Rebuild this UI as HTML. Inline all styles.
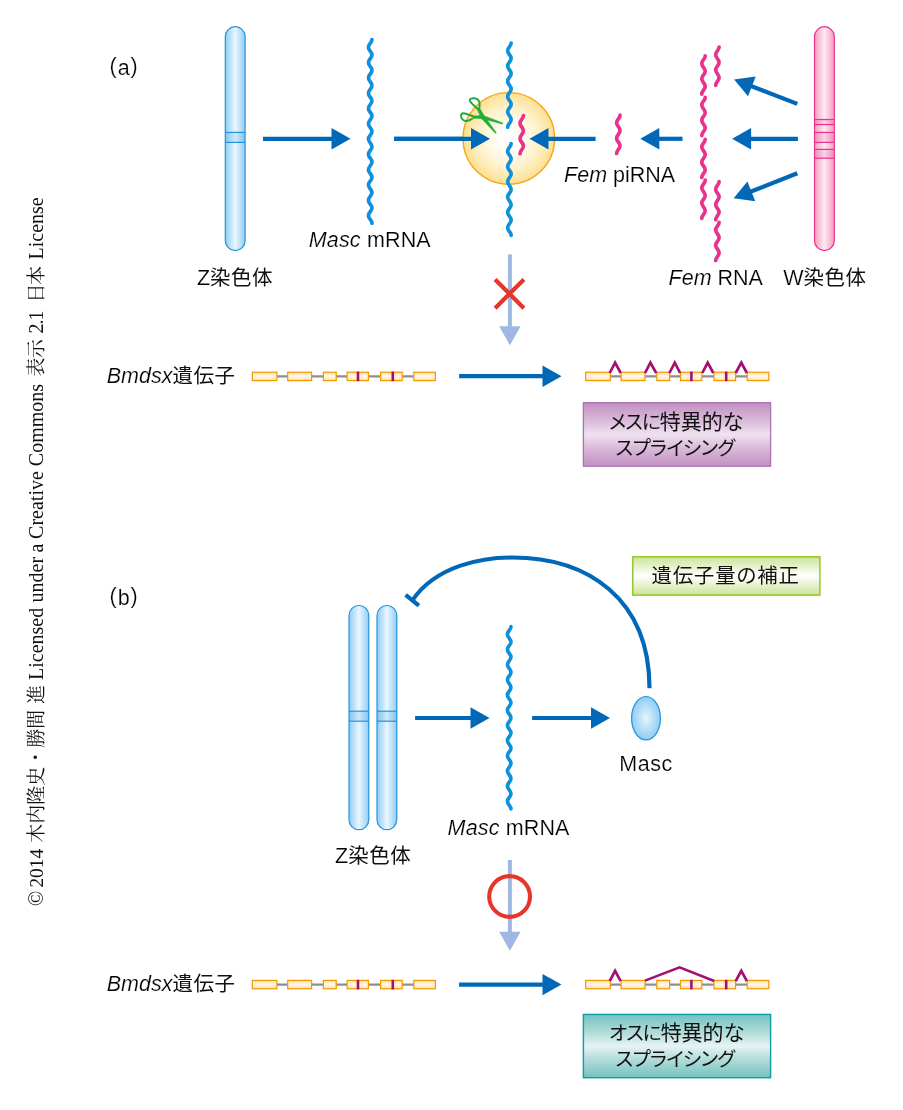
<!DOCTYPE html>
<html lang="ja">
<head>
<meta charset="utf-8">
<title>Masc / Fem piRNA</title>
<style>
html,body{margin:0;padding:0;background:#fff;}
body{width:903px;height:1110px;overflow:hidden;}
svg{display:block;will-change:transform;}
.t{font-family:"Liberation Sans","Noto Sans CJK JP",sans-serif;font-size:21.5px;fill:#000;stroke:#fff;stroke-width:0.18px;}
.i{font-style:italic;}
.j{font-size:20.5px;letter-spacing:0.5px;stroke:none;fill:#111;}
.bx{font-family:"Liberation Sans","Noto Sans CJK JP",sans-serif;font-size:21px;fill:#111;font-feature-settings:"palt";}
.k{letter-spacing:-1px;font-size:19.6px;}
.v{font-family:"Liberation Serif","Noto Serif CJK JP",serif;font-size:20px;fill:#111;}
.vj{font-size:19px;}
</style>
</head>
<body>
<svg width="903" height="1110" viewBox="0 0 903 1110">
<defs>
<linearGradient id="gZ" x1="0" y1="0" x2="1" y2="0">
<stop offset="0" stop-color="#8FCDF3"/><stop offset="0.5" stop-color="#EAF6FE"/><stop offset="1" stop-color="#8FCDF3"/>
</linearGradient>
<linearGradient id="gW" x1="0" y1="0" x2="1" y2="0">
<stop offset="0" stop-color="#F59AC3"/><stop offset="0.5" stop-color="#FDEAF2"/><stop offset="1" stop-color="#F59AC3"/>
</linearGradient>
<radialGradient id="gC" cx="0.5" cy="0.5" r="0.5">
<stop offset="0" stop-color="#FFFFFF"/><stop offset="0.25" stop-color="#FFFDF6"/><stop offset="0.65" stop-color="#FEF2CC"/><stop offset="1" stop-color="#FCE092"/>
</radialGradient>
<radialGradient id="gM" cx="0.5" cy="0.5" r="0.5">
<stop offset="0" stop-color="#E6F4FD"/><stop offset="1" stop-color="#8FCDF3"/>
</radialGradient>
<linearGradient id="gEx" x1="0" y1="0" x2="0" y2="1">
<stop offset="0" stop-color="#FDDCA0"/><stop offset="0.5" stop-color="#FFF9EC"/><stop offset="1" stop-color="#FDDCA0"/>
</linearGradient>
<linearGradient id="gP" x1="0" y1="0" x2="0" y2="1">
<stop offset="0" stop-color="#C190C2"/><stop offset="0.3" stop-color="#DBBCDB"/><stop offset="0.5" stop-color="#F0E2F0"/><stop offset="0.7" stop-color="#DBBCDB"/><stop offset="1" stop-color="#C190C2"/>
</linearGradient>
<linearGradient id="gG" x1="0" y1="0" x2="0" y2="1">
<stop offset="0" stop-color="#CBE496"/><stop offset="0.5" stop-color="#FFFFFF"/><stop offset="1" stop-color="#CBE496"/>
</linearGradient>
<linearGradient id="gT" x1="0" y1="0" x2="0" y2="1">
<stop offset="0" stop-color="#74C2BF"/><stop offset="0.3" stop-color="#B3DDDB"/><stop offset="0.5" stop-color="#E6F4F3"/><stop offset="0.7" stop-color="#B3DDDB"/><stop offset="1" stop-color="#74C2BF"/>
</linearGradient>
</defs>

<text class="v" transform="translate(42.8 906) rotate(-90)"><tspan x="0">©</tspan><tspan x="18.4" style="font-size:19.4px">2014</tspan> <tspan x="63.3" style="font-size:19px">木内隆史・勝間</tspan> <tspan x="201.9" style="font-size:19px">進</tspan> <tspan x="226">Licensed</tspan> <tspan x="303.5">under</tspan> <tspan x="353.6">a</tspan> <tspan x="367.1">Creative</tspan> <tspan x="439.8">Commons</tspan> <tspan x="529.6" style="font-size:19px;letter-spacing:-0.9px">表示</tspan> <tspan x="572.6" style="letter-spacing:-1.1px">2.1</tspan> <tspan x="603.6" style="font-size:19px;letter-spacing:-1.6px">日本</tspan> <tspan x="646.5">License</tspan></text>
<text class="t" x="109.6" y="75.2" style="letter-spacing:0.9px"><tspan dy="-2.2">(</tspan><tspan dy="2.2">a</tspan><tspan dy="-2.2">)</tspan></text>
<rect x="225.3" y="26.7" width="19.8" height="223.9" rx="9.9" ry="9.9" fill="url(#gZ)" stroke="#2294DF" stroke-width="1.2"/><rect x="225.3" y="132.4" width="19.8" height="10.00" fill="rgba(27,143,219,0.13)"/><line x1="225.3" y1="132.4" x2="245.10000000000002" y2="132.4" stroke="#2294DF" stroke-width="1.2"/><line x1="225.3" y1="142.4" x2="245.10000000000002" y2="142.4" stroke="#2294DF" stroke-width="1.2"/>
<text class="t" x="196.9" y="284.8">Z<tspan class="j">染色体</tspan></text>
<line x1="263.00" y1="138.80" x2="332.50" y2="138.80" stroke="#0068B7" stroke-width="4.2"/><polygon points="350.50,138.80 331.50,149.50 331.50,128.10" fill="#0068B7"/>
<path d="M371.95 39.60 C371.95 42.97 368.45 43.88 368.45 47.25 C368.45 50.62 371.95 51.53 371.95 54.90 C371.95 58.27 368.45 59.18 368.45 62.55 C368.45 65.92 371.95 66.83 371.95 70.20 C371.95 73.57 368.45 74.48 368.45 77.85 C368.45 81.22 371.95 82.13 371.95 85.50 C371.95 88.87 368.45 89.78 368.45 93.15 C368.45 96.52 371.95 97.43 371.95 100.80 C371.95 104.17 368.45 105.08 368.45 108.45 C368.45 111.82 371.95 112.73 371.95 116.10 C371.95 119.47 368.45 120.38 368.45 123.75 C368.45 127.12 371.95 128.03 371.95 131.40 C371.95 134.77 368.45 135.68 368.45 139.05 C368.45 142.42 371.95 143.33 371.95 146.70 C371.95 150.07 368.45 150.98 368.45 154.35 C368.45 157.72 371.95 158.63 371.95 162.00 C371.95 165.37 368.45 166.28 368.45 169.65 C368.45 173.02 371.95 173.93 371.95 177.30 C371.95 180.67 368.45 181.58 368.45 184.95 C368.45 188.32 371.95 189.23 371.95 192.60 C371.95 195.97 368.45 196.88 368.45 200.25 C368.45 203.62 371.95 204.53 371.95 207.90 C371.95 211.27 368.45 212.18 368.45 215.55 C368.45 218.92 371.95 219.83 371.95 223.20" fill="none" stroke="#0E90DD" stroke-width="3.7" stroke-linecap="round"/>
<text class="t" x="308.8" y="246.8" style="letter-spacing:0.15px"><tspan class="i">Masc</tspan> mRNA</text>
<line x1="394.20" y1="138.80" x2="472.00" y2="138.80" stroke="#0068B7" stroke-width="4.2"/><polygon points="490.00,138.80 471.00,149.50 471.00,128.10" fill="#0068B7"/>
<circle cx="508.8" cy="138.4" r="45.8" fill="url(#gC)" stroke="#F5A614" stroke-width="1.4"/>
<line x1="394.20" y1="138.80" x2="472.00" y2="138.80" stroke="#0068B7" stroke-width="4.2"/><polygon points="490.00,138.80 471.00,149.50 471.00,128.10" fill="#0068B7"/>
<line x1="595.60" y1="138.80" x2="547.50" y2="138.80" stroke="#0068B7" stroke-width="4.2"/><polygon points="529.50,138.80 548.50,128.10 548.50,149.50" fill="#0068B7"/>
<path d="M511.15 43.00 C511.15 46.37 507.65 47.28 507.65 50.65 C507.65 54.02 511.15 54.93 511.15 58.30 C511.15 61.67 507.65 62.58 507.65 65.95 C507.65 69.32 511.15 70.23 511.15 73.60 C511.15 76.97 507.65 77.88 507.65 81.25 C507.65 84.62 511.15 85.53 511.15 88.90 C511.15 92.27 507.65 93.18 507.65 96.55 C507.65 99.92 511.15 100.83 511.15 104.20 C511.15 107.57 507.65 108.48 507.65 111.85 C507.65 115.22 511.15 116.13 511.15 119.50 C511.15 122.87 507.65 123.78 507.65 127.15" fill="none" stroke="#0E90DD" stroke-width="3.7" stroke-linecap="round"/>
<path d="M511.15 143.50 C511.15 146.87 507.65 147.78 507.65 151.15 C507.65 154.52 511.15 155.43 511.15 158.80 C511.15 162.17 507.65 163.08 507.65 166.45 C507.65 169.82 511.15 170.73 511.15 174.10 C511.15 177.47 507.65 178.38 507.65 181.75 C507.65 185.12 511.15 186.03 511.15 189.40 C511.15 192.77 507.65 193.68 507.65 197.05 C507.65 200.42 511.15 201.33 511.15 204.70 C511.15 208.07 507.65 208.98 507.65 212.35 C507.65 215.72 511.15 216.63 511.15 220.00 C511.15 223.37 507.65 224.28 507.65 227.65 C507.65 231.02 511.15 231.93 511.15 235.30" fill="none" stroke="#0E90DD" stroke-width="3.7" stroke-linecap="round"/>
<path d="M523.40 115.50 C523.40 118.87 520.00 119.78 520.00 123.15 C520.00 126.52 523.40 127.43 523.40 130.80 C523.40 134.17 520.00 135.08 520.00 138.45 C520.00 141.82 523.40 142.73 523.40 146.10 C523.40 149.47 520.00 150.38 520.00 153.75" fill="none" stroke="#E8328C" stroke-width="3.7" stroke-linecap="round"/>
<g stroke="#22AC38" stroke-linejoin="round" stroke-linecap="round"><path d="M478.8 110 C476 107 471 103.5 470 100.8 C469.3 98.5 472 98 474.5 98.3 C477.5 98.7 479.3 100.5 479.6 103.5 C479.8 106 479.5 108 478.8 110 Z" fill="none" stroke-width="2.0"/><path d="M474.5 117 C471 115.5 466 113.3 463.5 113.2 C461.5 113.2 460.8 114.8 461.1 116.5 C461.6 119 464 121.2 466.5 121.1 C469.5 121 472 119 474.5 117 Z" fill="none" stroke-width="2.0"/><path d="M477.8 109.6 L480 108.8 L484.3 116 L496.3 132.8 L495.5 133.3 L481 118 Z" fill="#22AC38" stroke-width="0.6"/><path d="M474.2 116 L483 115.5 L502.8 123 L502.5 124 L482 118.6 L474.6 118.2 Z" fill="#22AC38" stroke-width="0.6"/></g>
<path d="M620.00 115.20 C620.00 118.57 616.60 119.48 616.60 122.85 C616.60 126.22 620.00 127.13 620.00 130.50 C620.00 133.87 616.60 134.78 616.60 138.15 C616.60 141.52 620.00 142.43 620.00 145.80 C620.00 149.17 616.60 150.08 616.60 153.45" fill="none" stroke="#E8328C" stroke-width="3.7" stroke-linecap="round"/>
<text class="t" x="564.1" y="182.0"><tspan class="i">Fem</tspan> piRNA</text>
<line x1="682.50" y1="138.80" x2="658.30" y2="138.80" stroke="#0068B7" stroke-width="4.2"/><polygon points="640.30,138.80 659.30,128.10 659.30,149.50" fill="#0068B7"/>
<path d="M705.20 55.90 C705.20 59.25 701.80 60.17 701.80 63.52 C701.80 66.88 705.20 67.80 705.20 71.15 C705.20 74.51 701.80 75.42 701.80 78.78 C701.80 82.13 705.20 83.05 705.20 86.40 C705.20 89.76 701.80 90.67 701.80 94.03" fill="none" stroke="#E8328C" stroke-width="3.7" stroke-linecap="round"/>
<path d="M705.20 97.40 C705.20 100.76 701.80 101.67 701.80 105.03 C701.80 108.38 705.20 109.30 705.20 112.65 C705.20 116.01 701.80 116.92 701.80 120.28 C701.80 123.63 705.20 124.55 705.20 127.90 C705.20 131.25 701.80 132.17 701.80 135.53" fill="none" stroke="#E8328C" stroke-width="3.7" stroke-linecap="round"/>
<path d="M705.20 139.30 C705.20 142.66 701.80 143.57 701.80 146.93 C701.80 150.28 705.20 151.20 705.20 154.55 C705.20 157.91 701.80 158.82 701.80 162.18 C701.80 165.53 705.20 166.45 705.20 169.80 C705.20 173.16 701.80 174.07 701.80 177.43" fill="none" stroke="#E8328C" stroke-width="3.7" stroke-linecap="round"/>
<path d="M705.20 180.20 C705.20 183.55 701.80 184.47 701.80 187.82 C701.80 191.18 705.20 192.09 705.20 195.45 C705.20 198.80 701.80 199.72 701.80 203.07 C701.80 206.43 705.20 207.34 705.20 210.70 C705.20 214.05 701.80 214.97 701.80 218.32" fill="none" stroke="#E8328C" stroke-width="3.7" stroke-linecap="round"/>
<path d="M719.10 47.10 C719.10 50.45 715.70 51.37 715.70 54.73 C715.70 58.08 719.10 59.00 719.10 62.35 C719.10 65.70 715.70 66.62 715.70 69.97 C715.70 73.33 719.10 74.24 719.10 77.60 C719.10 80.95 715.70 81.87 715.70 85.22" fill="none" stroke="#E8328C" stroke-width="3.7" stroke-linecap="round"/>
<path d="M719.10 181.60 C719.10 184.95 715.70 185.87 715.70 189.22 C715.70 192.58 719.10 193.50 719.10 196.85 C719.10 200.20 715.70 201.12 715.70 204.47 C715.70 207.83 719.10 208.75 719.10 212.10 C719.10 215.45 715.70 216.37 715.70 219.72" fill="none" stroke="#E8328C" stroke-width="3.7" stroke-linecap="round"/>
<path d="M719.10 222.30 C719.10 225.66 715.70 226.57 715.70 229.93 C715.70 233.28 719.10 234.20 719.10 237.55 C719.10 240.91 715.70 241.82 715.70 245.18 C715.70 248.53 719.10 249.45 719.10 252.80 C719.10 256.16 715.70 257.07 715.70 260.43" fill="none" stroke="#E8328C" stroke-width="3.7" stroke-linecap="round"/>
<text class="t" x="668.6" y="284.8"><tspan class="i">Fem</tspan> RNA</text>
<line x1="797.30" y1="103.90" x2="750.94" y2="86.02" stroke="#0068B7" stroke-width="4.2"/><polygon points="734.15,79.55 755.72,76.40 748.02,96.37" fill="#0068B7"/>
<line x1="797.90" y1="138.80" x2="750.10" y2="138.80" stroke="#0068B7" stroke-width="4.2"/><polygon points="732.10,138.80 751.10,128.10 751.10,149.50" fill="#0068B7"/>
<line x1="797.30" y1="173.30" x2="750.40" y2="191.76" stroke="#0068B7" stroke-width="4.2"/><polygon points="733.65,198.36 747.41,181.44 755.25,201.35" fill="#0068B7"/>
<rect x="814.5" y="26.7" width="19.8" height="223.9" rx="9.9" ry="9.9" fill="url(#gW)" stroke="#E8328C" stroke-width="1.2"/><rect x="814.5" y="119.5" width="19.8" height="5.10" fill="rgba(232,50,140,0.13)"/><rect x="814.5" y="132.4" width="19.8" height="10.00" fill="rgba(232,50,140,0.13)"/><rect x="814.5" y="149.4" width="19.8" height="8.80" fill="rgba(232,50,140,0.13)"/><line x1="814.5" y1="119.5" x2="834.3" y2="119.5" stroke="#E8328C" stroke-width="1.2"/><line x1="814.5" y1="124.6" x2="834.3" y2="124.6" stroke="#E8328C" stroke-width="1.2"/><line x1="814.5" y1="132.4" x2="834.3" y2="132.4" stroke="#E8328C" stroke-width="1.2"/><line x1="814.5" y1="142.4" x2="834.3" y2="142.4" stroke="#E8328C" stroke-width="1.2"/><line x1="814.5" y1="149.4" x2="834.3" y2="149.4" stroke="#E8328C" stroke-width="1.2"/><line x1="814.5" y1="158.2" x2="834.3" y2="158.2" stroke="#E8328C" stroke-width="1.2"/>
<text class="t" x="783.3" y="284.6">W<tspan class="j">染色体</tspan></text>
<line x1="509.90" y1="254.30" x2="509.90" y2="327.20" stroke="#9FB8E2" stroke-width="4"/><polygon points="509.90,345.20 499.20,326.20 520.60,326.20" fill="#9FB8E2"/>
<path d="M495.1 279.4 L523.9 308.2 M523.9 279.4 L495.1 308.2" stroke="#E6352B" stroke-width="4.2" fill="none"/>
<text class="t" x="106.7" y="383.2"><tspan class="i">Bmdsx</tspan><tspan class="j">遺伝子</tspan></text>
<line x1="253.7" y1="376.4" x2="433.7" y2="376.4" stroke="#8E8E8E" stroke-width="2.1"/><rect x="252.30" y="372.20" width="24.60" height="8.4" fill="url(#gEx)" stroke="#F39800" stroke-width="1.2"/><rect x="287.70" y="372.20" width="23.90" height="8.4" fill="url(#gEx)" stroke="#F39800" stroke-width="1.2"/><rect x="323.40" y="372.20" width="12.80" height="8.4" fill="url(#gEx)" stroke="#F39800" stroke-width="1.2"/><rect x="347.10" y="372.20" width="21.30" height="8.4" fill="url(#gEx)" stroke="#F39800" stroke-width="1.2"/><rect x="380.60" y="372.20" width="21.60" height="8.4" fill="url(#gEx)" stroke="#F39800" stroke-width="1.2"/><rect x="413.80" y="372.20" width="21.60" height="8.4" fill="url(#gEx)" stroke="#F39800" stroke-width="1.2"/><line x1="358.00" y1="371.60" x2="358.00" y2="381.20" stroke="#A4106F" stroke-width="2.6"/><line x1="392.80" y1="371.60" x2="392.80" y2="381.20" stroke="#A4106F" stroke-width="2.6"/>
<line x1="459.10" y1="376.20" x2="543.50" y2="376.20" stroke="#0068B7" stroke-width="4.2"/><polygon points="561.50,376.20 542.50,386.90 542.50,365.50" fill="#0068B7"/>
<line x1="587.1" y1="376.4" x2="767.1" y2="376.4" stroke="#8E8E8E" stroke-width="2.1"/><rect x="585.70" y="372.20" width="24.60" height="8.4" fill="url(#gEx)" stroke="#F39800" stroke-width="1.2"/><rect x="621.10" y="372.20" width="23.90" height="8.4" fill="url(#gEx)" stroke="#F39800" stroke-width="1.2"/><rect x="656.80" y="372.20" width="12.80" height="8.4" fill="url(#gEx)" stroke="#F39800" stroke-width="1.2"/><rect x="680.50" y="372.20" width="21.30" height="8.4" fill="url(#gEx)" stroke="#F39800" stroke-width="1.2"/><rect x="714.00" y="372.20" width="21.60" height="8.4" fill="url(#gEx)" stroke="#F39800" stroke-width="1.2"/><rect x="747.20" y="372.20" width="21.60" height="8.4" fill="url(#gEx)" stroke="#F39800" stroke-width="1.2"/><line x1="691.40" y1="371.60" x2="691.40" y2="381.20" stroke="#A4106F" stroke-width="2.6"/><line x1="726.20" y1="371.60" x2="726.20" y2="381.20" stroke="#A4106F" stroke-width="2.6"/>
<path d="M609.7 373 L615.1 362.6 L620.7 373" fill="none" stroke="#A4106F" stroke-width="2.7" stroke-linejoin="miter"/>
<path d="M645 373 L650.4 362.6 L656.2 373" fill="none" stroke="#A4106F" stroke-width="2.7" stroke-linejoin="miter"/>
<path d="M669.4 373 L674.8 362.6 L680.1 373" fill="none" stroke="#A4106F" stroke-width="2.7" stroke-linejoin="miter"/>
<path d="M702.3 373 L707.7 362.6 L713.3 373" fill="none" stroke="#A4106F" stroke-width="2.7" stroke-linejoin="miter"/>
<path d="M735.7 373 L741.3 362.6 L746.9 373" fill="none" stroke="#A4106F" stroke-width="2.7" stroke-linejoin="miter"/>
<rect x="583.4" y="402.7" width="187.2" height="63.5" fill="url(#gP)" stroke="#A973B2" stroke-width="1.3"/>
<text class="bx" x="609.1" y="429.3"><tspan class="k">メスに</tspan>特異的な</text>
<text class="bx k" x="615.6" y="454.6" style="letter-spacing:-0.6px">スプライシング</text>
<text class="t" x="109.6" y="605.2" style="letter-spacing:0.9px"><tspan dy="-2.2">(</tspan><tspan dy="2.2">b</tspan><tspan dy="-2.2">)</tspan></text>
<rect x="349.0" y="605.5" width="19.8" height="224.2" rx="9.9" ry="9.9" fill="url(#gZ)" stroke="#2294DF" stroke-width="1.2"/><rect x="349.0" y="711.2" width="19.8" height="10.00" fill="rgba(27,143,219,0.13)"/><line x1="349.0" y1="711.2" x2="368.8" y2="711.2" stroke="#2294DF" stroke-width="1.2"/><line x1="349.0" y1="721.2" x2="368.8" y2="721.2" stroke="#2294DF" stroke-width="1.2"/>
<rect x="377.0" y="605.5" width="19.8" height="224.2" rx="9.9" ry="9.9" fill="url(#gZ)" stroke="#2294DF" stroke-width="1.2"/><rect x="377.0" y="711.2" width="19.8" height="10.00" fill="rgba(27,143,219,0.13)"/><line x1="377.0" y1="711.2" x2="396.8" y2="711.2" stroke="#2294DF" stroke-width="1.2"/><line x1="377.0" y1="721.2" x2="396.8" y2="721.2" stroke="#2294DF" stroke-width="1.2"/>
<text class="t" x="335" y="862.7">Z<tspan class="j">染色体</tspan></text>
<line x1="415.10" y1="718.00" x2="471.50" y2="718.00" stroke="#0068B7" stroke-width="4.2"/><polygon points="489.50,718.00 470.50,728.70 470.50,707.30" fill="#0068B7"/>
<path d="M510.95 626.70 C510.95 630.04 507.45 630.95 507.45 634.29 C507.45 637.63 510.95 638.54 510.95 641.88 C510.95 645.22 507.45 646.13 507.45 649.47 C507.45 652.81 510.95 653.72 510.95 657.06 C510.95 660.40 507.45 661.31 507.45 664.65 C507.45 667.99 510.95 668.90 510.95 672.24 C510.95 675.58 507.45 676.49 507.45 679.83 C507.45 683.17 510.95 684.08 510.95 687.42 C510.95 690.76 507.45 691.67 507.45 695.01 C507.45 698.35 510.95 699.26 510.95 702.60 C510.95 705.94 507.45 706.85 507.45 710.19 C507.45 713.53 510.95 714.44 510.95 717.78 C510.95 721.12 507.45 722.03 507.45 725.37 C507.45 728.71 510.95 729.62 510.95 732.96 C510.95 736.30 507.45 737.21 507.45 740.55 C507.45 743.89 510.95 744.80 510.95 748.14 C510.95 751.48 507.45 752.39 507.45 755.73 C507.45 759.07 510.95 759.98 510.95 763.32 C510.95 766.66 507.45 767.57 507.45 770.91 C507.45 774.25 510.95 775.16 510.95 778.50 C510.95 781.84 507.45 782.75 507.45 786.09 C507.45 789.43 510.95 790.34 510.95 793.68 C510.95 797.02 507.45 797.93 507.45 801.27 C507.45 804.61 510.95 805.52 510.95 808.86" fill="none" stroke="#0E90DD" stroke-width="3.7" stroke-linecap="round"/>
<text class="t" x="447.6" y="834.6" style="letter-spacing:0.15px"><tspan class="i">Masc</tspan> mRNA</text>
<line x1="532.10" y1="718.00" x2="592.00" y2="718.00" stroke="#0068B7" stroke-width="4.2"/><polygon points="610.00,718.00 591.00,728.70 591.00,707.30" fill="#0068B7"/>
<ellipse cx="646" cy="718.2" rx="14.4" ry="21.7" fill="url(#gM)" stroke="#2294DF" stroke-width="1.2"/>
<text class="t" x="619.2" y="770.5" style="letter-spacing:0.6px">Masc</text>
<path d="M412.3 600.4 C436.5 564.9 483.6 557.5 512 557.5 C586.8 557.5 649.5 598 649.5 688.2" fill="none" stroke="#0068B7" stroke-width="4.2"/>
<line x1="405.6" y1="594.9" x2="418.9" y2="605.7" stroke="#0068B7" stroke-width="4.2"/>
<rect x="632.8" y="556.8" width="187.1" height="38.3" fill="url(#gG)" stroke="#8FC31F" stroke-width="1.4"/>
<text class="bx" x="651.5" y="583.2" style="font-size:20.4px;letter-spacing:0.9px">遺伝子量の補正</text>
<line x1="509.90" y1="860.00" x2="509.90" y2="932.80" stroke="#9FB8E2" stroke-width="4"/><polygon points="509.90,950.80 499.20,931.80 520.60,931.80" fill="#9FB8E2"/>
<circle cx="509.6" cy="896.5" r="20.4" fill="none" stroke="#E6352B" stroke-width="4.1"/>
<text class="t" x="106.7" y="991.3"><tspan class="i">Bmdsx</tspan><tspan class="j">遺伝子</tspan></text>
<line x1="253.7" y1="984.6" x2="433.7" y2="984.6" stroke="#8E8E8E" stroke-width="2.1"/><rect x="252.30" y="980.40" width="24.60" height="8.4" fill="url(#gEx)" stroke="#F39800" stroke-width="1.2"/><rect x="287.70" y="980.40" width="23.90" height="8.4" fill="url(#gEx)" stroke="#F39800" stroke-width="1.2"/><rect x="323.40" y="980.40" width="12.80" height="8.4" fill="url(#gEx)" stroke="#F39800" stroke-width="1.2"/><rect x="347.10" y="980.40" width="21.30" height="8.4" fill="url(#gEx)" stroke="#F39800" stroke-width="1.2"/><rect x="380.60" y="980.40" width="21.60" height="8.4" fill="url(#gEx)" stroke="#F39800" stroke-width="1.2"/><rect x="413.80" y="980.40" width="21.60" height="8.4" fill="url(#gEx)" stroke="#F39800" stroke-width="1.2"/><line x1="358.00" y1="979.80" x2="358.00" y2="989.40" stroke="#A4106F" stroke-width="2.6"/><line x1="392.80" y1="979.80" x2="392.80" y2="989.40" stroke="#A4106F" stroke-width="2.6"/>
<line x1="459.10" y1="984.60" x2="543.50" y2="984.60" stroke="#0068B7" stroke-width="4.2"/><polygon points="561.50,984.60 542.50,995.30 542.50,973.90" fill="#0068B7"/>
<line x1="587.1" y1="984.6" x2="767.1" y2="984.6" stroke="#8E8E8E" stroke-width="2.1"/><rect x="585.70" y="980.40" width="24.60" height="8.4" fill="url(#gEx)" stroke="#F39800" stroke-width="1.2"/><rect x="621.10" y="980.40" width="23.90" height="8.4" fill="url(#gEx)" stroke="#F39800" stroke-width="1.2"/><rect x="656.80" y="980.40" width="12.80" height="8.4" fill="url(#gEx)" stroke="#F39800" stroke-width="1.2"/><rect x="680.50" y="980.40" width="21.30" height="8.4" fill="url(#gEx)" stroke="#F39800" stroke-width="1.2"/><rect x="714.00" y="980.40" width="21.60" height="8.4" fill="url(#gEx)" stroke="#F39800" stroke-width="1.2"/><rect x="747.20" y="980.40" width="21.60" height="8.4" fill="url(#gEx)" stroke="#F39800" stroke-width="1.2"/><line x1="691.40" y1="979.80" x2="691.40" y2="989.40" stroke="#A4106F" stroke-width="2.6"/><line x1="726.20" y1="979.80" x2="726.20" y2="989.40" stroke="#A4106F" stroke-width="2.6"/>
<path d="M609.7 981.2 L615.1 970.8 L620.7 981.2" fill="none" stroke="#A4106F" stroke-width="2.7"/>
<path d="M735.7 981.2 L741.3 970.8 L746.9 981.2" fill="none" stroke="#A4106F" stroke-width="2.7"/>
<path d="M645 980.7 L679.6 967.4 L714.2 981" fill="none" stroke="#A4106F" stroke-width="2.5"/>
<rect x="583.4" y="1014.4" width="187.2" height="63.3" fill="url(#gT)" stroke="#0F9CA6" stroke-width="1.4"/>
<text class="bx" x="609.1" y="1040.3"><tspan class="k">オスに</tspan>特異的な</text>
<text class="bx k" x="615.6" y="1065.8" style="letter-spacing:-0.6px">スプライシング</text>
</svg>
</body>
</html>
